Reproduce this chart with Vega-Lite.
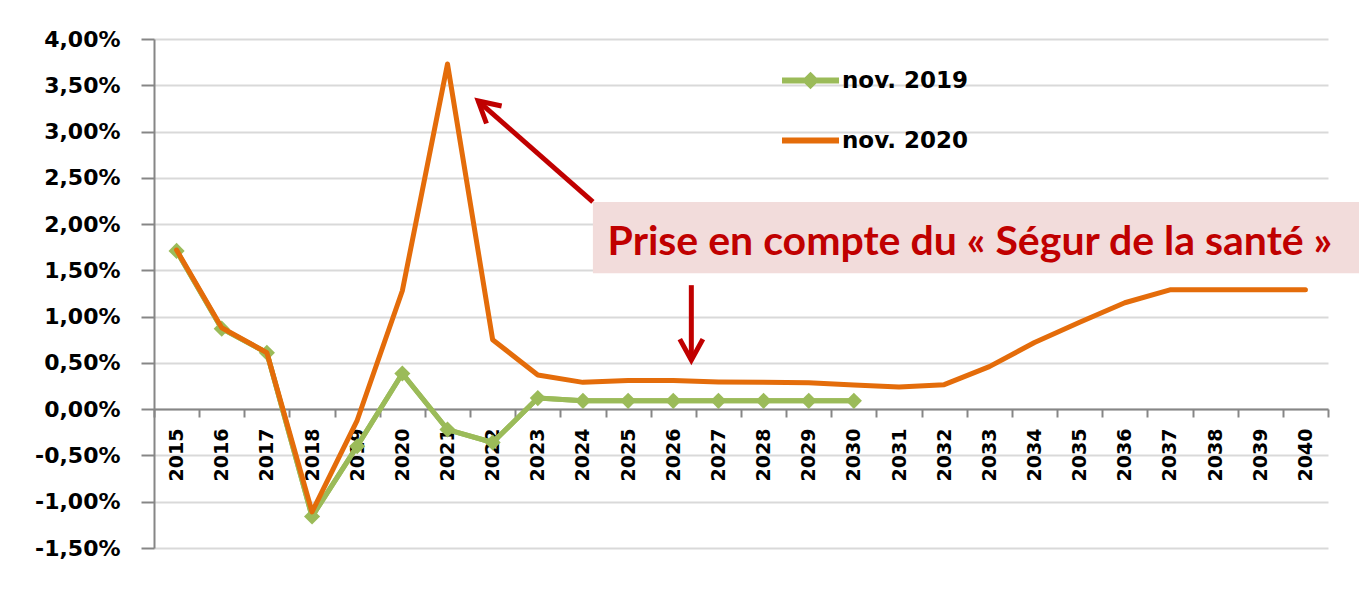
{
  "$schema": "https://vega.github.io/schema/vega-lite/v6.json",
  "width": 1174,
  "height": 509,
  "autosize": {"type": "none"},
  "padding": {"left": 154, "top": 39, "right": 31, "bottom": 44},
  "background": "white",
  "config": {"view": {"stroke": null}, "font": "DejaVu Sans"},
  "datasets": {
    "series": [
      {"year": 2015, "series": "nov. 2019", "value": 1.71},
      {"year": 2016, "series": "nov. 2019", "value": 0.87},
      {"year": 2017, "series": "nov. 2019", "value": 0.61},
      {"year": 2018, "series": "nov. 2019", "value": -1.16},
      {"year": 2019, "series": "nov. 2019", "value": -0.40},
      {"year": 2020, "series": "nov. 2019", "value": 0.385},
      {"year": 2021, "series": "nov. 2019", "value": -0.22},
      {"year": 2022, "series": "nov. 2019", "value": -0.36},
      {"year": 2023, "series": "nov. 2019", "value": 0.12},
      {"year": 2024, "series": "nov. 2019", "value": 0.09},
      {"year": 2025, "series": "nov. 2019", "value": 0.09},
      {"year": 2026, "series": "nov. 2019", "value": 0.09},
      {"year": 2027, "series": "nov. 2019", "value": 0.09},
      {"year": 2028, "series": "nov. 2019", "value": 0.09},
      {"year": 2029, "series": "nov. 2019", "value": 0.09},
      {"year": 2030, "series": "nov. 2019", "value": 0.09},
      {"year": 2015, "series": "nov. 2020", "value": 1.72},
      {"year": 2016, "series": "nov. 2020", "value": 0.88},
      {"year": 2017, "series": "nov. 2020", "value": 0.61},
      {"year": 2018, "series": "nov. 2020", "value": -1.11},
      {"year": 2019, "series": "nov. 2020", "value": -0.12},
      {"year": 2020, "series": "nov. 2020", "value": 1.28},
      {"year": 2021, "series": "nov. 2020", "value": 3.73},
      {"year": 2022, "series": "nov. 2020", "value": 0.75},
      {"year": 2023, "series": "nov. 2020", "value": 0.37},
      {"year": 2024, "series": "nov. 2020", "value": 0.29},
      {"year": 2025, "series": "nov. 2020", "value": 0.31},
      {"year": 2026, "series": "nov. 2020", "value": 0.31},
      {"year": 2027, "series": "nov. 2020", "value": 0.295},
      {"year": 2028, "series": "nov. 2020", "value": 0.29},
      {"year": 2029, "series": "nov. 2020", "value": 0.285},
      {"year": 2030, "series": "nov. 2020", "value": 0.26},
      {"year": 2031, "series": "nov. 2020", "value": 0.24},
      {"year": 2032, "series": "nov. 2020", "value": 0.265},
      {"year": 2033, "series": "nov. 2020", "value": 0.46},
      {"year": 2034, "series": "nov. 2020", "value": 0.72},
      {"year": 2035, "series": "nov. 2020", "value": 0.94},
      {"year": 2036, "series": "nov. 2020", "value": 1.15},
      {"year": 2037, "series": "nov. 2020", "value": 1.29},
      {"year": 2038, "series": "nov. 2020", "value": 1.29},
      {"year": 2039, "series": "nov. 2020", "value": 1.29},
      {"year": 2040, "series": "nov. 2020", "value": 1.29}
    ],
    "box": [{"x1": 2024.22, "x2": 2041.19, "y1": 1.47, "y2": 2.24}],
    "note": [{"x": 2032.57, "y": 1.8, "label": "Prise en compte du « Ségur de la santé »"}],
    "arrows": [
      {"id": "a1", "x": 2024.22, "y": 2.24, "x2": 2021.68, "y2": 3.33},
      {"id": "a2", "x": 2026.4, "y": 1.34, "x2": 2026.4, "y2": 0.53}
    ]
  },
  "layer": [
    {
      "data": {"name": "series"},
      "transform": [{"filter": "datum.series == 'nov. 2019'"}],
      "mark": {"type": "line", "color": "#9BBB59", "strokeWidth": 5, "strokeJoin": "round", "strokeCap": "round"},
      "encoding": {
        "x": {
          "field": "year", "type": "quantitative",
          "scale": {"domain": [2014.5, 2040.5], "nice": false, "zero": false},
          "axis": {
            "title": null, "orient": "bottom", "offset": -139,
            "values": [2015, 2016, 2017, 2018, 2019, 2020, 2021, 2022, 2023, 2024, 2025, 2026, 2027, 2028, 2029, 2030, 2031, 2032, 2033, 2034, 2035, 2036, 2037, 2038, 2039, 2040],
            "format": "d", "labelAngle": 270, "labelFont": "DejaVu Sans", "labelFontSize": 19, "labelFontWeight": "bold", "labelColor": "black",
            "labelPadding": 19, "labelOverlap": false, "labelFlush": false, "labelBound": false,
            "ticks": false, "grid": false, "domain": true, "domainColor": "#868686", "domainWidth": 2, "zindex": 0
          }
        },
        "y": {
          "field": "value", "type": "quantitative",
          "scale": {"domain": [-1.5, 4], "nice": false, "zero": false},
          "axis": {
            "title": null, "orient": "left",
            "values": [-1.5, -1, -0.5, 0, 0.5, 1, 1.5, 2, 2.5, 3, 3.5, 4],
            "labelExpr": "replace(replace(format(datum.value, '.2f'), '.', ','), '−', '-') + '%'",
            "labelFont": "DejaVu Sans", "labelFontSize": 22, "labelFontWeight": "bold", "labelColor": "black", "labelPadding": 21,
            "grid": true, "gridColor": "#D9D9D9", "gridWidth": 2,
            "domainColor": "#868686", "domainWidth": 2,
            "tickColor": "#868686", "tickWidth": 2, "tickSize": 13, "zindex": 0
          }
        }
      }
    },
    {
      "data": {"name": "box"},
      "mark": {"type": "rect", "color": "#F2DCDB"},
      "encoding": {
        "x": {"field": "x1", "type": "quantitative", "scale": {"domain": [2014.5, 2040.5], "nice": false, "zero": false}, "axis": null},
        "x2": {"field": "x2"},
        "y": {"field": "y1", "type": "quantitative", "scale": {"domain": [-1.5, 4], "nice": false, "zero": false}, "axis": null},
        "y2": {"field": "y2"}
      }
    },
    {
      "data": {"name": "series"},
      "transform": [{"filter": "datum.series == 'nov. 2019'"}],
      "mark": {"type": "line", "color": "#9BBB59", "strokeWidth": 5, "strokeJoin": "round", "strokeCap": "round"},
      "encoding": {
        "x": {"field": "year", "type": "quantitative", "scale": {"domain": [2014.5, 2040.5], "nice": false, "zero": false}, "axis": null},
        "y": {"field": "value", "type": "quantitative", "scale": {"domain": [-1.5, 4], "nice": false, "zero": false}, "axis": null}
      }
    },
    {
      "data": {"name": "series"},
      "transform": [{"filter": "datum.series == 'nov. 2019'"}],
      "mark": {"type": "point", "shape": "diamond", "filled": true, "size": 260, "opacity": 1},
      "encoding": {
        "x": {"field": "year", "type": "quantitative", "scale": {"domain": [2014.5, 2040.5], "nice": false, "zero": false}, "axis": null},
        "y": {"field": "value", "type": "quantitative", "scale": {"domain": [-1.5, 4], "nice": false, "zero": false}, "axis": null},
        "color": {
          "field": "series", "type": "nominal",
          "scale": {"domain": ["nov. 2019"], "range": ["#9BBB59"]},
          "legend": {
            "title": null, "orient": "none", "legendX": 625, "legendY": 10,
            "symbolType": "M-1,0H1M0,-0.16L0.16,0L0,0.16L-0.16,0Z",
            "symbolSize": 3249, "symbolStrokeWidth": 6, "symbolStrokeColor": "#9BBB59", "symbolFillColor": "#9BBB59", "symbolOpacity": 1,
            "labelOffset": 0,
            "labelFont": "DejaVu Sans", "labelFontSize": 23, "labelFontWeight": "bold", "labelColor": "black", "labelLimit": 400
          }
        }
      }
    },
    {
      "data": {"name": "series"},
      "transform": [{"filter": "datum.series == 'nov. 2020'"}],
      "mark": {"type": "line", "strokeWidth": 5, "strokeJoin": "round", "strokeCap": "round"},
      "encoding": {
        "x": {
          "field": "year", "type": "quantitative",
          "scale": {"domain": [2014.5, 2040.5], "nice": false, "zero": false},
          "axis": {
            "title": null, "orient": "bottom", "offset": -139,
            "values": [2014.5, 2015.5, 2016.5, 2017.5, 2018.5, 2019.5, 2020.5, 2021.5, 2022.5, 2023.5, 2024.5, 2025.5, 2026.5, 2027.5, 2028.5, 2029.5, 2030.5, 2031.5, 2032.5, 2033.5, 2034.5, 2035.5, 2036.5, 2037.5, 2038.5, 2039.5, 2040.5],
            "labels": false, "ticks": true, "tickSize": 8, "tickColor": "#868686", "tickWidth": 2,
            "grid": false, "domain": false
          }
        },
        "y": {"field": "value", "type": "quantitative", "scale": {"domain": [-1.5, 4], "nice": false, "zero": false}, "axis": null},
        "stroke": {
          "field": "series", "type": "nominal",
          "scale": {"domain": ["nov. 2020"], "range": ["#E46C0A"]},
          "legend": {
            "title": null, "orient": "none", "legendX": 625, "legendY": 70,
            "symbolType": "M-1,0H1",
            "symbolSize": 3249, "symbolStrokeWidth": 6, "symbolOpacity": 1,
            "labelOffset": 0,
            "labelFont": "DejaVu Sans", "labelFontSize": 23, "labelFontWeight": "bold", "labelColor": "black", "labelLimit": 400
          }
        }
      }
    },
    {
      "data": {"name": "note"},
      "mark": {"type": "text", "font": "Lato", "fontWeight": "bold", "fontSize": 41, "color": "#C00000", "align": "center", "baseline": "middle"},
      "encoding": {
        "x": {"field": "x", "type": "quantitative", "scale": {"domain": [2014.5, 2040.5], "nice": false, "zero": false}, "axis": null},
        "y": {"field": "y", "type": "quantitative", "scale": {"domain": [-1.5, 4], "nice": false, "zero": false}, "axis": null},
        "text": {"field": "label"}
      }
    },
    {
      "data": {"name": "arrows"},
      "mark": {"type": "rule", "color": "#C00000", "strokeWidth": 5},
      "encoding": {
        "x": {"field": "x", "type": "quantitative", "scale": {"domain": [2014.5, 2040.5], "nice": false, "zero": false}, "axis": null},
        "y": {"field": "y", "type": "quantitative", "scale": {"domain": [-1.5, 4], "nice": false, "zero": false}, "axis": null},
        "x2": {"field": "x2"},
        "y2": {"field": "y2"}
      }
    },
    {
      "data": {"name": "arrows"},
      "transform": [{"filter": "datum.id == 'a1'"}],
      "mark": {"type": "point", "shape": "M-0.55,1L0,0L0.55,1", "filled": false, "stroke": "#C00000", "strokeWidth": 5, "size": 1764, "angle": 311, "opacity": 1, "strokeJoin": "miter"},
      "encoding": {
        "x": {"field": "x2", "type": "quantitative", "scale": {"domain": [2014.5, 2040.5], "nice": false, "zero": false}, "axis": null},
        "y": {"field": "y2", "type": "quantitative", "scale": {"domain": [-1.5, 4], "nice": false, "zero": false}, "axis": null}
      }
    },
    {
      "data": {"name": "arrows"},
      "transform": [{"filter": "datum.id == 'a2'"}],
      "mark": {"type": "point", "shape": "M-0.55,1L0,0L0.55,1", "filled": false, "stroke": "#C00000", "strokeWidth": 5, "size": 1764, "angle": 180, "opacity": 1, "strokeJoin": "miter"},
      "encoding": {
        "x": {"field": "x2", "type": "quantitative", "scale": {"domain": [2014.5, 2040.5], "nice": false, "zero": false}, "axis": null},
        "y": {"field": "y2", "type": "quantitative", "scale": {"domain": [-1.5, 4], "nice": false, "zero": false}, "axis": null}
      }
    }
  ],
  "resolve": {"axis": {"x": "independent", "y": "independent"}}
}
